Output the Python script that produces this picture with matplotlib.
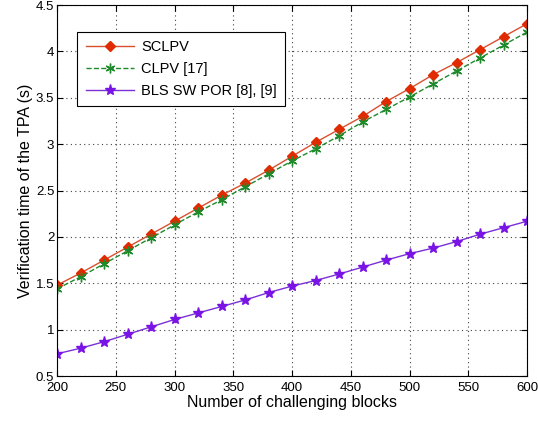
import matplotlib
matplotlib.use("Agg")
import matplotlib.pyplot as plt

plt.rcParams["font.family"] = ["Liberation Sans", "DejaVu Sans"]

blocks = list(range(200, 601, 20))
sclpv = [1.48, 1.61, 1.75, 1.89, 2.03, 2.17, 2.31, 2.45, 2.58, 2.72, 2.87,
         3.02, 3.16, 3.30, 3.46, 3.60, 3.75, 3.88, 4.02, 4.16, 4.30]
clpv = [1.44, 1.57, 1.71, 1.85, 1.99, 2.13, 2.27, 2.40, 2.54, 2.68, 2.82,
        2.95, 3.09, 3.24, 3.375, 3.51, 3.65, 3.79, 3.93, 4.07, 4.21]
bls = [0.74, 0.80, 0.87, 0.95, 1.03, 1.11, 1.18, 1.25, 1.32, 1.40, 1.47,
       1.53, 1.60, 1.675, 1.75, 1.82, 1.88, 1.95, 2.03, 2.10, 2.17]

fig = plt.figure(figsize=(5.38, 4.23), dpi=100)
ax = fig.add_axes([0.106, 0.111, 0.874, 0.877])

ax.plot(blocks, sclpv, "-", color="#d9502e", lw=1.0, marker="D", ms=5,
        mfc="#e02a00", mec="#e02a00", label="SCLPV")
ax.plot(blocks, clpv, "--", color="#1e8a2a", lw=1.0, marker=(6, 2, 0), ms=7,
        mfc="#1e8a2a", mec="#1e8a2a", mew=1.0, label="CLPV [17]")
ax.plot(blocks, bls, "-", color="#7b2fd6", lw=1.0, marker="*", ms=8,
        mfc="#7a14e6", mec="#7a14e6", label="BLS SW POR [8], [9]")

ax.set_xlim(200, 600)
ax.set_ylim(0.5, 4.5)
ax.set_xticks(range(200, 601, 50))
ax.set_yticks([0.5, 1, 1.5, 2, 2.5, 3, 3.5, 4, 4.5])
ax.set_yticklabels(["0.5", "1", "1.5", "2", "2.5", "3", "3.5", "4", "4.5"])
ax.grid(True, color="#444444", linestyle=(0, (1, 3)), lw=0.8)
ax.tick_params(direction="in", labelsize=9.5, top=True, right=True, length=4)
ax.tick_params(axis="x", pad=4)
ax.tick_params(axis="y", pad=2)
ax.set_xlabel("Number of challenging blocks", fontsize=11.5, labelpad=1)
ax.set_ylabel("Verification time of the TPA (s)", fontsize=11.5, labelpad=2)
for s in ax.spines.values():
    s.set_linewidth(0.8)

leg = ax.legend(loc="upper left", bbox_to_anchor=(0.028, 0.948), fontsize=10.5,
                fancybox=False, edgecolor="black", framealpha=1,
                handlelength=3.3, borderpad=0.55, labelspacing=0.55,
                handletextpad=0.5)
leg.get_frame().set_linewidth(0.8)

fig.savefig("out.png", dpi=100)
